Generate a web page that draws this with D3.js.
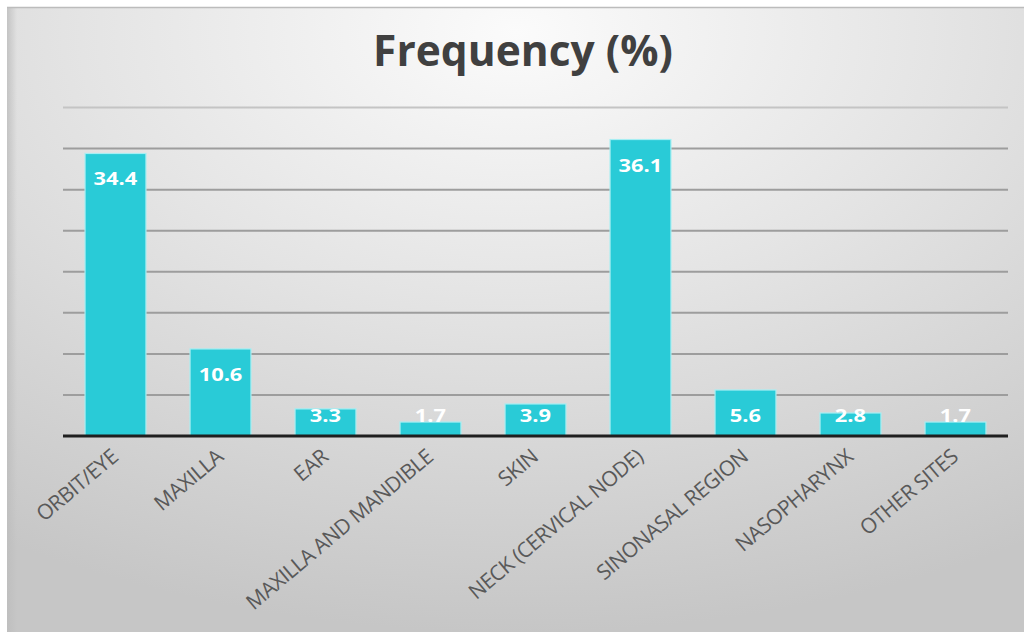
<!DOCTYPE html>
<html>
<head>
<meta charset="utf-8">
<script src="https://cdn.jsdelivr.net/npm/d3@7"></script>
<style>
  html, body { margin: 0; padding: 0; background: #ffffff; }
  svg { display: block; }
</style>
</head>
<body>
<svg id="chart" width="1027" height="632"></svg>
<script>
// Primary site distribution, in percent
const sites = ["ORBIT/EYE", "MAXILLA", "EAR", "MAXILLA AND MANDIBLE", "SKIN",
               "NECK (CERVICAL NODE)", "SINONASAL REGION", "NASOPHARYNX", "OTHER SITES"];
const frequency = [34.4, 10.6, 3.3, 1.7, 3.9, 36.1, 5.6, 2.8, 1.7];
const gridValues = [5, 10, 15, 20, 25, 30, 35, 40];
const chartTitle = "Frequency (%)";

const svg = d3.select("#chart");
const W = 1027, H = 632;

// Panel background with soft grey shading
const defs = svg.append("defs");
const bg = defs.append("radialGradient").attr("id", "panelBg")
  .attr("cx", "50%").attr("cy", "4%").attr("r", "95%")
  .attr("fx", "50%").attr("fy", "4%");
bg.append("stop").attr("offset", "0%").attr("stop-color", "#fbfbfb");
bg.append("stop").attr("offset", "45%").attr("stop-color", "#e4e4e4");
bg.append("stop").attr("offset", "100%").attr("stop-color", "#c6c6c6");

const edge = defs.append("linearGradient").attr("id", "leftEdge")
  .attr("x1", "0").attr("x2", "1").attr("y1", "0").attr("y2", "0");
edge.append("stop").attr("offset", "0").attr("stop-color", "#bdbdbd").attr("stop-opacity", 0.8);
edge.append("stop").attr("offset", "1").attr("stop-color", "#bdbdbd").attr("stop-opacity", 0);

svg.append("rect").attr("x", 7).attr("y", 7).attr("width", 1017).attr("height", H)
  .attr("fill", "url(#panelBg)");
svg.append("rect").attr("x", 7).attr("y", 7).attr("width", 10).attr("height", H)
  .attr("fill", "url(#leftEdge)");
svg.append("line").attr("x1", 7).attr("x2", 1024).attr("y1", 7.5).attr("y2", 7.5)
  .attr("stroke", "#bcbcbc").attr("stroke-width", 1.5);

// Plot geometry
const plot = { left: 63, right: 1008, bottom: 436 };

const x = d3.scaleBand().domain(sites).range([plot.left, plot.right]).paddingInner(0.42).paddingOuter(0.21);
const y = d3.scaleLinear().domain([0, 40]).range([plot.bottom, plot.bottom - 328.5]);

// Horizontal gridlines
svg.append("g").selectAll("line").data(gridValues).join("line")
  .attr("x1", plot.left).attr("x2", plot.right)
  .attr("y1", d => y(d)).attr("y2", d => y(d))
  .attr("stroke", d => d === 40 ? "#c4c4c4" : "#9d9d9d")
  .attr("stroke-width", 2);

// Bars
svg.append("g").selectAll("rect").data(frequency).join("rect")
  .attr("x", (d, i) => x(sites[i]))
  .attr("y", d => y(d))
  .attr("width", x.bandwidth())
  .attr("height", d => plot.bottom - y(d))
  .attr("fill", "#29cbd7")
  .attr("stroke", "#a6eef3")
  .attr("stroke-width", 1.2);

// Category axis line
svg.append("line").attr("x1", plot.left).attr("x2", plot.right)
  .attr("y1", plot.bottom).attr("y2", plot.bottom)
  .attr("stroke", "#1f1f1f").attr("stroke-width", 3);

// Value labels inside bar ends
svg.append("g").selectAll("text").data(frequency).join("text")
  .attr("x", (d, i) => x(sites[i]) + x.bandwidth() / 2)
  .attr("y", d => Math.min(y(d) + 32, plot.bottom - 14))
  .attr("text-anchor", "middle")
  .attr("font-family", "'Open Sans', sans-serif")
  .attr("font-weight", 700)
  .attr("font-size", 17.5)
  .attr("fill", "#ffffff")
  .attr("transform", function (d, i) {
    const cx = x(sites[i]) + x.bandwidth() / 2;
    return `translate(${cx},0) scale(1.25,1) translate(${-cx},0)`;
  })
  .text(d => d.toFixed(1));

// Rotated category labels
svg.append("g").selectAll("text").data(sites).join("text")
  .attr("transform", d => `translate(${x(d) + x.bandwidth() / 2 + 4},${plot.bottom + 23}) rotate(-40)`)
  .attr("text-anchor", "end")
  .attr("font-family", "'Open Sans', sans-serif")
  .attr("font-size", 21)
  .attr("letter-spacing", -0.5)
  .attr("fill", "#595959")
  .text(d => d);

// Title
svg.append("text")
  .attr("x", 523).attr("y", 66)
  .attr("text-anchor", "middle")
  .attr("font-family", "'Open Sans', sans-serif")
  .attr("font-weight", 700)
  .attr("font-size", 42.5)
  .attr("fill", "#404040")
  .text(chartTitle);
</script>
</body>
</html>
